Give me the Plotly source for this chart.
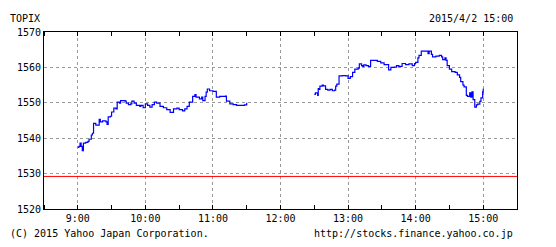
import datetime as dt
import plotly.graph_objects as go

# --- data (minutes after 9:00, TOPIX value) ---
am_minutes = [0, 1, 2, 3, 4, 5, 7, 9, 10, 12, 13, 14, 16, 19, 20, 22, 25, 26, 27, 29,
              30, 32, 34, 35, 37, 38, 42, 43, 45, 47, 48, 50, 52, 55, 56, 58, 60, 62,
              64, 66, 68, 70, 73, 76, 79, 82, 85, 88, 90, 93, 95, 97, 99, 102, 104,
              105, 108, 110, 111, 113, 114, 115, 117, 120, 123, 126, 131, 132, 135,
              138, 141, 145, 148, 150]
am_values = [1537.4, 1537.7, 1538.6, 1537.7, 1536.5, 1538.6, 1538.8, 1539.1, 1539.7,
             1540.9, 1541.4, 1544.2, 1543.7, 1545.3, 1544.6, 1544.9, 1544.6, 1543.9,
             1546.0, 1546.2, 1547.4, 1548.5, 1548.3, 1550.2, 1549.9, 1550.6, 1550.5,
             1549.9, 1549.5, 1549.7, 1550.5, 1549.9, 1549.3, 1549.0, 1549.3, 1548.6,
             1549.7, 1549.3, 1548.8, 1549.5, 1550.2, 1549.9, 1549.0, 1548.6, 1548.1,
             1547.3, 1548.3, 1548.5, 1548.1, 1547.7, 1548.3, 1549.0, 1550.2, 1551.8,
             1552.3, 1551.6, 1551.1, 1551.6, 1550.6, 1551.8, 1553.0, 1553.9, 1553.4,
             1553.2, 1551.6, 1551.8, 1551.9, 1550.5, 1549.7, 1549.5, 1549.3, 1549.3,
             1549.4, 1550.0]

pm_minutes = [210, 211, 213, 213.5, 214, 215, 217, 218, 220, 222, 224, 226, 228, 229,
              230, 232, 235, 238, 240, 242, 244, 246, 249, 250, 252, 253, 254, 256,
              258, 260, 263, 266, 269, 272, 275, 276, 278, 281, 283, 285, 288, 291,
              294, 297, 299, 300, 302, 303, 305, 308, 311, 312, 314, 315, 318, 321,
              323, 324, 326, 327, 328, 330, 332, 335, 337, 339, 340, 342, 343, 345,
              346, 348, 349, 350, 351, 352.5, 354, 355, 357, 358, 359.5, 360]
pm_values = [1552.4, 1552.8, 1552.1, 1554.0, 1553.8, 1554.7, 1555.0, 1554.8, 1553.8,
             1553.6, 1553.8, 1553.4, 1553.6, 1554.7, 1555.3, 1557.6, 1557.7, 1557.6,
             1556.9, 1557.4, 1558.6, 1559.5, 1559.8, 1561.0, 1560.5, 1560.3, 1560.7,
             1560.5, 1560.3, 1562.0, 1562.0, 1561.7, 1561.3, 1560.8, 1560.8, 1559.3,
             1560.0, 1560.1, 1560.5, 1560.3, 1561.1, 1560.8, 1561.0, 1560.5, 1561.1,
             1561.4, 1562.7, 1563.4, 1564.6, 1564.6, 1563.9, 1564.6, 1563.7, 1563.0,
             1563.2, 1563.4, 1563.0, 1562.2, 1562.7, 1562.0, 1560.5, 1559.5, 1558.8,
             1558.6, 1557.9, 1557.2, 1556.0, 1555.0, 1554.5, 1552.1, 1551.8, 1552.8,
             1551.6, 1553.1, 1550.9, 1548.8, 1549.4, 1549.6, 1550.4, 1551.4, 1553.1,
             1554.0]

prev_close = 1529.2
tick_minutes = [0, 60, 120, 180, 240, 300, 360]
tick_labels = ["9:00", "10:00", "11:00", "12:00", "13:00", "14:00", "15:00"]
y_ticks = [1520, 1530, 1540, 1550, 1560, 1570]

base = dt.datetime(2015, 4, 2, 9, 0)
def to_time(ms):
    return [base + dt.timedelta(minutes=m) for m in ms]

FONT = "DejaVu Sans Mono"
fig = go.Figure()
fig.add_trace(go.Scatter(x=to_time(am_minutes), y=am_values, mode="lines",
                         line=dict(color="#0000FF", width=1.2, shape="hv"),
                         showlegend=False, hoverinfo="skip"))
fig.add_trace(go.Scatter(x=to_time(pm_minutes), y=pm_values, mode="lines",
                         line=dict(color="#0000FF", width=1.2, shape="hv"),
                         showlegend=False, hoverinfo="skip"))
fig.add_hline(y=prev_close, line=dict(color="#FF0000", width=1))

fig.update_layout(
    width=556, height=247,
    margin=dict(l=44, r=39, t=32, b=38),
    paper_bgcolor="white", plot_bgcolor="white",
    font=dict(family=FONT, size=10, color="#000000"),
    xaxis=dict(range=[base - dt.timedelta(minutes=30), base + dt.timedelta(minutes=390)],
               tickvals=to_time(tick_minutes), ticktext=tick_labels,
               showgrid=True, gridcolor="#999999", griddash="dot", gridwidth=1,
               showline=True, linecolor="#000000", linewidth=1, mirror="allticks",
               ticks="", zeroline=False,
               minor=dict(dtick=30 * 60 * 1000, tick0=base, ticks="inside",
                          ticklen=4, tickcolor="#000000", showgrid=False),
               tickfont=dict(family=FONT, size=10)),
    yaxis=dict(range=[1520, 1570], tickvals=y_ticks,
               showgrid=True, gridcolor="#999999", griddash="dot", gridwidth=1,
               showline=True, linecolor="#000000", linewidth=1, mirror=True,
               ticks="", zeroline=False, tickfont=dict(family=FONT, size=10)),
    annotations=[
        dict(text="TOPIX", xref="paper", yref="paper", x=-0.077, y=1.035,
             xanchor="left", yanchor="bottom", showarrow=False,
             font=dict(family=FONT, size=10)),
        dict(text="2015/4/2 15:00", xref="paper", yref="paper", x=0.996, y=1.035,
             xanchor="right", yanchor="bottom", showarrow=False,
             font=dict(family=FONT, size=10)),
        dict(text="(C) 2015 Yahoo Japan Corporation.", xref="paper", yref="paper",
             x=-0.077, y=-0.095, xanchor="left", yanchor="top", showarrow=False,
             font=dict(family=FONT, size=10)),
        dict(text="http://stocks.finance.yahoo.co.jp", xref="paper", yref="paper",
             x=0.996, y=-0.095, xanchor="right", yanchor="top", showarrow=False,
             font=dict(family=FONT, size=10)),
    ],
)
fig.write_html("out.html")
